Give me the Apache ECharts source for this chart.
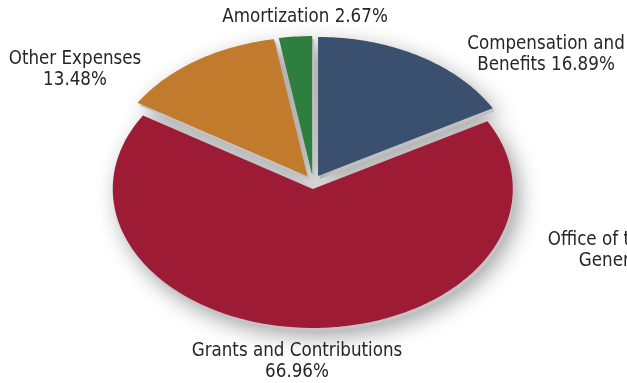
<!DOCTYPE html>
<html>
<head>
<meta charset="utf-8">
<script src="https://cdn.jsdelivr.net/npm/echarts@6/dist/echarts.min.js"></script>
<style>
  html, body { margin: 0; padding: 0; background: #ffffff; }
  #chart { width: 627px; height: 383px; }
</style>
</head>
<body>
<div id="chart"></div>
<script>
// Expense breakdown, clockwise from 12 o'clock
const categories = ['Compensation and Benefits', 'Office of the Inspector General', 'Grants and Contributions', 'Other Expenses', 'Amortization'];
const values = [16.89, 0.00, 66.96, 13.48, 2.67];
// Label wording, with the line break where each label wraps
const labelNames = ['Compensation and\nBenefits ', 'Office of the Inspector\nGeneral ', 'Grants and Contributions\n', 'Other Expenses\n', 'Amortization '];

const colors = ['#3a506e', '#7f7f7f', '#9e1b35', '#c27b2d', '#2e7e3f'];
// Label block centres (px)
const labelLayout = [[546, 55], [641, 251], [297, 362], [75, 70], [305, 17]];
const LABEL_FONT = '18.6px "Liberation Sans Narrow", "DejaVu Sans Condensed", "Roboto", sans-serif';

const EXPLODE = 0.05;      // slice pull-out, in radius units
const total = values.reduce((a, b) => a + b, 0);
let acc = 0;
const sliceData = values.map((v, i) => {
  const s = acc / total * 2 * Math.PI;
  acc += v;
  const e = acc / total * 2 * Math.PI;
  return [s, e, i];
});

// Unit-circle sector mapped through the axes; unequal axis spans make it an ellipse
function slicePoints(api, s, e) {
  const m = (s + e) / 2;
  const ox = EXPLODE * Math.sin(m), oy = EXPLODE * Math.cos(m);
  const pts = [api.coord([ox, oy])];
  const n = Math.max(2, Math.ceil((e - s) / (2 * Math.PI) * 360));
  for (let k = 0; k <= n; k++) {
    const a = s + (e - s) * k / n;
    pts.push(api.coord([ox + Math.sin(a), oy + Math.cos(a)]));
  }
  return pts;
}

const chart = echarts.init(document.getElementById('chart'), null, { renderer: 'canvas' });
chart.setOption({
  backgroundColor: '#ffffff',
  animation: false,
  grid: { left: 113, right: 114, top: 43, bottom: 62 },
  xAxis: { type: 'value', min: -1, max: 1, show: false },
  yAxis: { type: 'value', min: -1, max: 1, show: false },
  series: [
    {
      // soft drop shadow behind the slices
      type: 'custom',
      coordinateSystem: 'cartesian2d',
      silent: true,
      z: 1,
      data: sliceData,
      renderItem: function (params, api) {
        const s = api.value(0), e = api.value(1);
        if (e - s <= 0) return { type: 'group', children: [] };
        return {
          type: 'polygon',
          x: 2, y: 3,
          shape: { points: slicePoints(api, s, e) },
          style: {
            fill: '#c4c4c4',
            shadowBlur: 22,
            shadowColor: 'rgba(0,0,0,0.38)',
            shadowOffsetX: 4,
            shadowOffsetY: 5
          }
        };
      }
    },
    {
      type: 'custom',
      coordinateSystem: 'cartesian2d',
      silent: true,
      z: 2,
      data: sliceData,
      renderItem: function (params, api) {
        const s = api.value(0), e = api.value(1), i = api.value(2);
        if (e - s <= 0) return { type: 'group', children: [] };
        return {
          type: 'polygon',
          shape: { points: slicePoints(api, s, e) },
          style: { fill: colors[i] }
        };
      }
    }
  ],
  graphic: values.map((v, i) => ({
    type: 'text',
    x: labelLayout[i][0],
    y: labelLayout[i][1],
    z: 10,
    style: {
      text: labelNames[i] + v.toFixed(2) + '%',
      fill: '#262626',
      font: LABEL_FONT,
      align: 'center',
      verticalAlign: 'middle',
      lineHeight: 21
    }
  }))
});
</script>
</body>
</html>
